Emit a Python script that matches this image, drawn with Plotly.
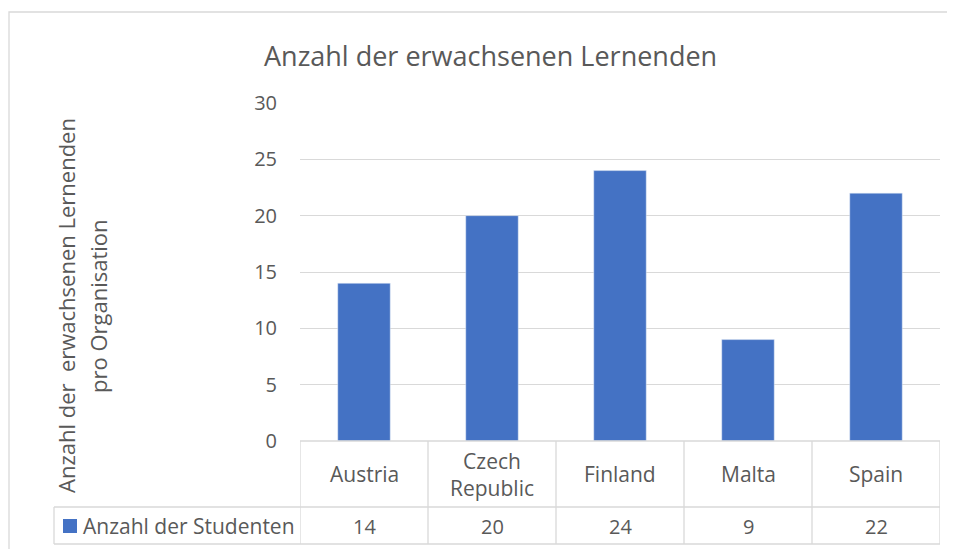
import plotly.graph_objects as go

categories = ["Austria", "Czech Republic", "Finland", "Malta", "Spain"]
category_labels = ["Austria", "Czech<br>Republic", "Finland", "Malta", "Spain"]
values = [14, 20, 24, 9, 22]
series_name = "Anzahl der Studenten"
title_text = "Anzahl der erwachsenen Lernenden"
ytitle_line1 = "Anzahl der  erwachsenen Lernenden"
ytitle_line2 = "pro Organisation"
y_ticks = [0, 5, 10, 15, 20, 25, 30]

W, H = 955, 549
OFF = 8  # page body margin
FONT = "Open Sans"
TXT = "#595959"
GRID = "#D9D9D9"
BAR = "#4472C4"


def fx(x):
    return (x - OFF) / W


def fy(y):
    return 1 - (y - OFF) / H


fig = go.Figure()
fig.add_trace(go.Bar(x=categories, y=values, marker_color=BAR, name=series_name,
                     showlegend=False))

LW = 1.3
shapes = []
# outer chart border
shapes.append(dict(type="rect", xref="paper", yref="paper", x0=fx(9), x1=fx(970),
                   y0=fy(570), y1=fy(12), line=dict(color=GRID, width=LW)))
# table vertical lines
for i in range(len(categories) + 1):
    shapes.append(dict(type="line", xref="x", yref="paper", x0=i - 0.5, x1=i - 0.5,
                       y0=fy(441), y1=fy(544), line=dict(color=GRID, width=LW)))
# table horizontal lines
shapes.append(dict(type="line", xref="x", yref="paper", x0=-0.5, x1=len(categories) - 0.5,
                   y0=fy(441), y1=fy(441), line=dict(color=GRID, width=LW)))
for yy in (507, 544):
    shapes.append(dict(type="line", xref="paper", yref="paper", x0=fx(54), x1=fx(940),
                       y0=fy(yy), y1=fy(yy), line=dict(color=GRID, width=LW)))
shapes.append(dict(type="line", xref="paper", yref="paper", x0=fx(54), x1=fx(54),
                   y0=fy(507), y1=fy(544), line=dict(color=GRID, width=LW)))
# legend key
shapes.append(dict(type="rect", xref="paper", yref="paper", x0=fx(63), x1=fx(77),
                   y0=fy(533), y1=fy(519), fillcolor=BAR, line=dict(width=0)))

annotations = []
for i, lab in enumerate(category_labels):
    annotations.append(dict(x=categories[i], xref="x", y=fy(474), yref="paper", text=lab,
                            showarrow=False, font=dict(family=FONT, size=21, color=TXT),
                            xanchor="center", yanchor="middle"))
    annotations.append(dict(x=categories[i], xref="x", y=fy(526), yref="paper",
                            text=str(values[i]), showarrow=False,
                            font=dict(family=FONT, size=20, color=TXT),
                            xanchor="center", yanchor="middle"))
annotations.append(dict(x=fx(81), xref="paper", y=fy(526), yref="paper", text=series_name,
                        showarrow=False, font=dict(family=FONT, size=21, color=TXT),
                        xanchor="left", yanchor="middle"))
annotations.append(dict(x=fx(490), xref="paper", y=fy(56), yref="paper", text=title_text,
                        showarrow=False, font=dict(family=FONT, size=27, color=TXT),
                        xanchor="center", yanchor="middle"))
annotations.append(dict(x=fx(66), xref="paper", y=fy(306), yref="paper", text=ytitle_line1,
                        showarrow=False, textangle=-90,
                        font=dict(family=FONT, size=22, color=TXT),
                        xanchor="center", yanchor="middle"))
annotations.append(dict(x=fx(98), xref="paper", y=fy(306), yref="paper", text=ytitle_line2,
                        showarrow=False, textangle=-90,
                        font=dict(family=FONT, size=22, color=TXT),
                        xanchor="center", yanchor="middle"))

fig.update_layout(
    width=W, height=H,
    margin=dict(l=0, r=0, t=0, b=0, autoexpand=False),
    paper_bgcolor="white", plot_bgcolor="white",
    bargap=0.59,
    shapes=shapes,
    annotations=annotations,
    xaxis=dict(domain=[fx(300), fx(940)], range=[-0.5, len(categories) - 0.5],
               showticklabels=False, showgrid=False, showline=False, zeroline=False,
               automargin=False, fixedrange=True),
    yaxis=dict(domain=[fy(441), fy(103)], range=[0, 30], tickvals=y_ticks,
               showgrid=True, gridcolor=GRID, gridwidth=LW, zeroline=False,
               showline=False, ticks="", ticklabelstandoff=22, automargin=False,
               tickfont=dict(family=FONT, size=20, color=TXT), fixedrange=True),
)

fig.write_html("out.html")
